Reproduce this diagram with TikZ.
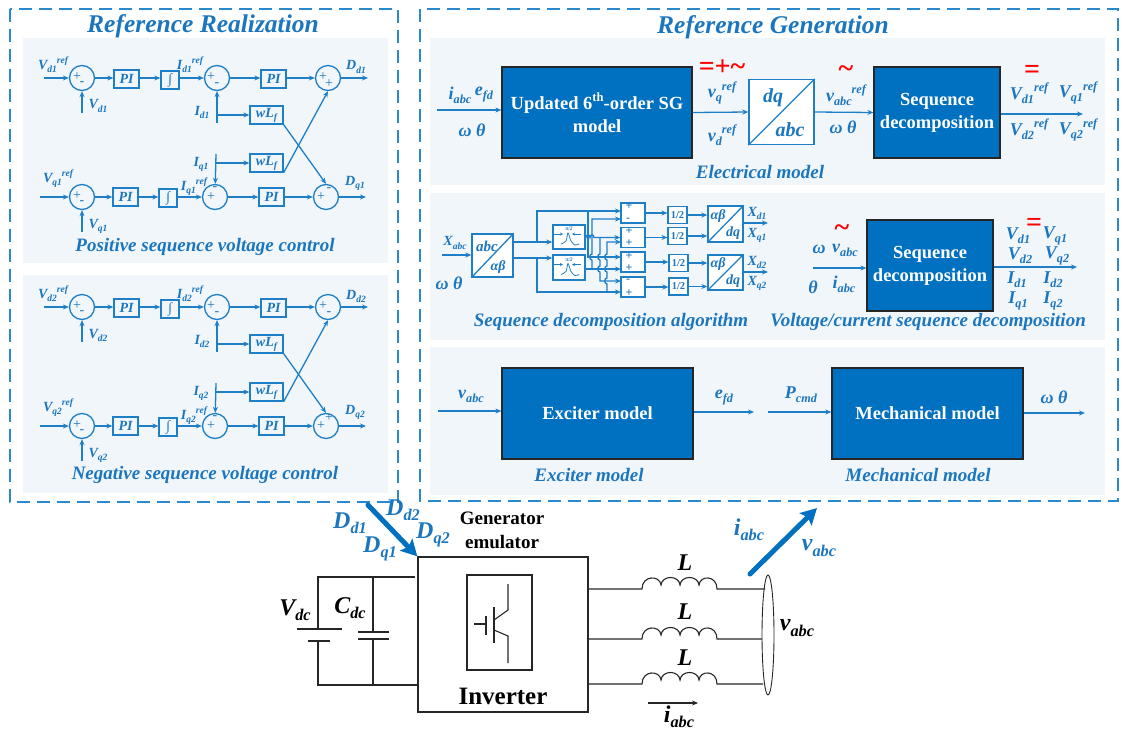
\documentclass[tikz,border=0pt]{standalone}
\usepackage{fontspec}
\setmainfont{Liberation Serif}
\usepackage{xcolor}
\definecolor{colSig}{HTML}{1F7FC6}
\definecolor{colText}{HTML}{1B76BE}
\definecolor{colDash}{HTML}{2A88CE}
\definecolor{colPanel}{HTML}{F1F6FB}
\definecolor{colBlock}{HTML}{0070C0}
\definecolor{colWire}{HTML}{262626}
\usepackage{tikz}
\usetikzlibrary{arrows.meta, positioning, calc, shapes.geometric}
\newcommand{\vlab}[3]{#1\raisebox{-.22em}{\scalebox{.68}{#2}}\raisebox{.42em}{\scalebox{.68}{#3}}}
\newcommand{\vhop}[2]{-- (#1,#2-3) .. controls (#1-3,#2-3) and (#1-3,#2+3) .. (#1,#2+3)}
\tikzset{
	sig/.style={colSig, line width=1.3pt, -{Stealth[length=6pt,width=5pt]}},
	sigback/.style={colSig, line width=1.3pt, {Stealth[length=6pt,width=5pt]}-},
	sigline/.style={colSig, line width=1.3pt},
	wire/.style={colWire, line width=1.1pt},
	thickarrow/.style={colBlock, line width=5pt, line cap=round, -{Stealth[length=16pt,width=17pt,inset=3pt]}},
	ctrlbox/.style={draw=colSig, line width=1.3pt, text=colText, inner sep=0pt, font=\fontsize{14}{15}\selectfont\bfseries\itshape},
	sumnode/.style={circle, draw=colSig, line width=1.3pt, minimum size=25pt, inner sep=0pt},
	signmark/.style={text=colText, inner sep=0pt, font=\fontsize{14}{14}\selectfont},
	addsign/.style={text=colText, inner sep=0pt, font=\fontsize{12}{12}\selectfont\bfseries},
	symlab/.style={text=colText, inner sep=0pt, font=\fontsize{14}{15}\selectfont\bfseries\itshape},
	symlarge/.style={text=colText, inner sep=0pt, font=\fontsize{18}{19}\selectfont\bfseries\itshape},
	captlab/.style={text=colText, inner sep=0pt, font=\fontsize{19}{21}\selectfont\bfseries\itshape},
	titlelab/.style={text=colText, inner sep=0pt, font=\fontsize{25.5}{27}\selectfont\bfseries\itshape},
	biglab/.style={text=colText, inner sep=0pt, font=\fontsize{24}{25}\selectfont\bfseries\itshape},
	blacklab/.style={text=black, inner sep=0pt, font=\fontsize{24}{25}\selectfont\bfseries\itshape},
	redmark/.style={text=red, inner sep=0pt, font=\fontsize{28}{28}\selectfont\bfseries},
	solidblock/.style={draw=colWire, fill=colBlock, line width=1.2pt, text=white, align=center, inner sep=0pt, font=\fontsize{18.5}{23}\selectfont\bfseries},
	transbox/.style={draw=colSig, fill=white, line width=1.4pt, inner sep=0pt},
	addbox/.style={draw=colSig, fill=white, line width=1.3pt, inner sep=0pt, minimum width=24pt, minimum height=20pt},
	halfbox/.style={draw=colSig, fill=white, line width=1.1pt, inner sep=0pt, minimum width=19pt, minimum height=17pt, text=colText, font=\fontsize{10.5}{11}\selectfont\bfseries},
}
\newcommand{\intsym}{∫}
% One sequence loop: y shift, sequence number, y and text of the second sign on both output sums
\newcommand{\ctrlblock}[6]{%
	\begin{scope}[shift={(0,#1)}, name prefix=seq#2-]
		\node[sumnode] (sumA) at (82,78) {};
		\node[ctrlbox, minimum width=25pt, minimum height=18pt] (piA) at (126.5,79) {PI};
		\node[ctrlbox, minimum width=18pt, minimum height=18pt] (intA) at (170,80) {\intsym};
		\node[sumnode] (sumB) at (217,78) {};
		\node[ctrlbox, minimum width=25pt, minimum height=18pt] (piB) at (273.5,79) {PI};
		\node[sumnode] (sumC) at (328,78) {};
		\node[ctrlbox, minimum width=33pt, minimum height=18pt] (wlA) at (266.5,115) {\vlab{wL}{f}{}};
		\node[ctrlbox, minimum width=33pt, minimum height=18pt] (wlB) at (266.5,163) {\vlab{wL}{f}{}};
		\node[sumnode] (sumD) at (82,197) {};
		\node[ctrlbox, minimum width=25pt, minimum height=18pt] (piD) at (125.5,197) {PI};
		\node[ctrlbox, minimum width=18pt, minimum height=18pt] (intD) at (168,198) {\intsym};
		\node[sumnode] (sumE) at (215,197) {};
		\node[ctrlbox, minimum width=25pt, minimum height=18pt] (piE) at (271.5,197) {PI};
		\node[sumnode] (sumF) at (326,197) {};
		% Signs
		\node[signmark] (sgA) at (77,77) {+};
		\node[signmark] (sgB) at (82,84) {-};
		\node[signmark] (sgC) at (211,77) {+};
		\node[signmark] (sgD) at (217,85) {-};
		\node[signmark] (sgE) at (323,77) {+};
		\node[signmark] (sgF) at (329,#3) {#4};
		\node[signmark] (sgG) at (77,196) {+};
		\node[signmark] (sgH) at (82,203) {-};
		\node[signmark] (sgI) at (211,197) {+};
		\node[signmark] (sgJ) at (215,189) {-};
		\node[signmark] (sgK) at (321,197) {+};
		\node[signmark] (sgL) at (329,#5) {#6};
		% Labels
		\node[symlab] (lbA) at (53,65) {\vlab{V}{d#2}{ref}};
		\node[symlab] (lbB) at (98,106) {\vlab{V}{d#2}{}};
		\node[symlab] (lbC) at (190,65) {\vlab{I}{d#2}{ref}};
		\node[symlab] (lbD) at (202,112) {\vlab{I}{d#2}{}};
		\node[symlab] (lbE) at (356,67) {\vlab{D}{d#2}{}};
		\node[symlab] (lbF) at (58,179) {\vlab{V}{q#2}{ref}};
		\node[symlab] (lbG) at (98,226) {\vlab{V}{q#2}{}};
		\node[symlab] (lbH) at (194,187) {\vlab{I}{q#2}{ref}};
		\node[symlab] (lbI) at (201,164) {\vlab{I}{q#2}{}};
		\node[symlab] (lbJ) at (355,183) {\vlab{D}{q#2}{}};
		% Free ends
		\coordinate (inA) at (44,78);
		\coordinate (fbA) at (82,113);
		\coordinate (outC) at (368,78);
		\coordinate (feedB) at (217,123);
		\coordinate (tapB) at (217,115);
		\coordinate (inD) at (40,197);
		\coordinate (fbD) at (82,232);
		\coordinate (outF) at (366,197);
		\coordinate (feedE) at (216,154);
		\coordinate (tapE) at (216,163);
		% Top row
		\draw[sig] (inA) -- (sumA);
		\draw[sig] (fbA) -- (sumA);
		\draw[sig] (sumA) -- (sumA -| piA.west);
		\draw[sig] (piA.east |- sumA) -- (sumA -| intA.west);
		\draw[sig] (intA.east |- sumB) -- (sumB);
		\draw[sig] (sumB) -- (sumB -| piB.west);
		\draw[sig] (piB.east |- sumC) -- (sumC);
		\draw[sig] (sumC) -- (outC);
		\draw[sig] (feedB) -- (sumB);
		\draw[sig] (tapB) -- (wlA);
		% Bottom row
		\draw[sig] (inD) -- (sumD);
		\draw[sig] (fbD) -- (sumD);
		\draw[sig] (sumD) -- (piD);
		\draw[sig] (piD.east) -- (sumD -| intD.west);
		\draw[sig] (intD.east |- sumE) -- (sumE);
		\draw[sig] (sumE) -- (piE);
		\draw[sig] (piE) -- (sumF);
		\draw[sig] (sumF) -- (outF);
		\draw[sig] (feedE) -- (sumE);
		\draw[sig] (tapE) -- (wlB);
		% Crossing
		\draw[sig] (wlA.south east) -- (sumF.north);
		\draw[sig] (wlB.south east) -- (sumC.south);
	\end{scope}}
\begin{document}
\begin{tikzpicture}[x=1pt, y=-1pt]
	\useasboundingbox (0,0) rectangle (1123,731);
	% Panels
	\fill[colPanel] (23,38) rectangle (388,263);
	\fill[colPanel] (23,275) rectangle (388,493);
	\fill[colPanel] (430,38) rectangle (1105,185);
	\fill[colPanel] (430,193) rectangle (1105,340);
	\fill[colPanel] (430,347) rectangle (1105,495);
	\draw[colDash, line width=1.4pt, dash pattern=on 13pt off 7pt] (10,9) rectangle (398,502);
	\draw[colDash, line width=1.4pt, dash pattern=on 13pt off 7pt] (420,9) rectangle (1118,501);
	\node[titlelab] (titleReal) at (203,26) {Reference Realization};
	\node[titlelab] (titleGen) at (773,27) {Reference Generation};
	% Control loops
	\ctrlblock{0}{1}{84}{+}{190}{-}
	\node[captlab] (captPos) at (205,247) {Positive sequence voltage control};
	\ctrlblock{229}{2}{85}{-}{189}{+}
	\node[captlab] (captNeg) at (205,475) {Negative sequence voltage control};
	% Electrical model
	\node[solidblock, minimum width=190pt, minimum height=91pt] (sgModel) at (597,112.5) {Updated 6\raisebox{.42em}{\scalebox{.68}{th}}-order SG\\model};
	\node[transbox, minimum width=65pt, minimum height=65pt] (dqAbc) at (781.5,112) {};
	\draw[sigline] (dqAbc.south west) -- (dqAbc.north east);
	\node[solidblock, minimum width=126pt, minimum height=91pt] (seqElec) at (937,112.5) {Sequence\\decomposition};
	\node[symlarge, font=\fontsize{20}{21}\selectfont\bfseries\itshape] (lbDq) at (773,98) {dq};
	\node[symlarge, font=\fontsize{20}{21}\selectfont\bfseries\itshape] (lbAbc) at (790,130) {abc};
	\coordinate (inSg) at (437,110);
	\coordinate (outSeq) at (1083,114);
	\draw[sig] (inSg) -- (inSg -| sgModel.west);
	\draw[sig] (sgModel.east) -- (dqAbc.west);
	\draw[sig] (dqAbc.east) -- (seqElec.west);
	\draw[sig] (seqElec.east |- outSeq) -- (outSeq);
	\node[symlarge] (lbIabc) at (460,95) {\vlab{i}{abc}{}};
	\node[symlarge] (lbEfd) at (484,95) {\vlab{e}{fd}{}};
	\node[symlarge] (lbWt) at (472,130) {ω θ};
	\node[symlarge] (lbVq) at (722,93) {\vlab{v}{q}{ref}};
	\node[symlarge] (lbVd) at (722,135) {\vlab{v}{d}{ref}};
	\node[symlarge] (lbVabcR) at (846,95) {\vlab{v}{abc}{ref}};
	\node[symlarge] (lbWtB) at (843,127) {ω θ};
	\node[symlarge] (lbVdA) at (1029,93) {\vlab{V}{d1}{ref}};
	\node[symlarge] (lbVqA) at (1078,93) {\vlab{V}{q1}{ref}};
	\node[symlarge] (lbVdB) at (1029,129) {\vlab{V}{d2}{ref}};
	\node[symlarge] (lbVqB) at (1078,130) {\vlab{V}{q2}{ref}};
	\node[redmark] (redA) at (722,68) {=+\textasciitilde};
	\node[redmark] (redB) at (846,72) {\textasciitilde};
	\node[redmark] (redC) at (1032,72) {=};
	\node[captlab] (captElec) at (760,172) {Electrical model};
	% Sequence decomposition algorithm
	\node[transbox, minimum width=41pt, minimum height=43pt] (abcAb) at (492.5,255.5) {};
	\draw[sigline] (abcAb.south west) -- (abcAb.north east);
	\node[symlab, font=\fontsize{15}{16}\selectfont\bfseries\itshape] (lbAbcB) at (487,246) {abc};
	\node[symlab] (lbAb) at (498,267) {αβ};
	\node[transbox, minimum width=32pt, minimum height=24pt] (lpA) at (569,237) {};
	\node[transbox, minimum width=32pt, minimum height=25pt] (lpB) at (569,267.5) {};
	\foreach \lp/\tx in {lpA/piA, lpB/piB} {
		\node[text=colText, inner sep=0pt, font=\fontsize{5.5}{6}\selectfont\bfseries\itshape] (\tx) at ($(\lp.center)+(0,-8)$) {π/2};
		\draw[colSig, line width=.8pt] plot[smooth] coordinates {($(\lp.center)+(-8,7)$) ($(\lp.center)+(-3,4)$) ($(\lp.center)+(-1,-4)$) ($(\lp.center)+(2,4)$) ($(\lp.center)+(6,8)$) ($(\lp.center)+(10,7)$)};
		\draw[colSig, line width=.8pt, -{Stealth[length=3pt,width=3pt]}] ($(\lp.center)+(12,-3)$) -- ($(\lp.center)+(3,-3)$);
		\draw[colSig, line width=.8pt, -{Stealth[length=3pt,width=3pt]}] ($(\lp.center)+(-15,-3)$) -- ($(\lp.center)+(-6,-3)$);
	}
	\node[addbox] (addA) at (633,213) {};
	\node[addbox] (addB) at (633,237.5) {};
	\node[addbox] (addC) at (633,262) {};
	\node[addbox] (addD) at (633,287) {};
	\node[addsign] (pmA) at (629,206.5) {+};
	\node[addsign] (pmB) at (628,220) {-};
	\node[addsign] (pmC) at (629,231.5) {+};
	\node[addsign] (pmD) at (629,243) {+};
	\node[addsign] (pmE) at (629,256) {+};
	\node[addsign] (pmF) at (629,268) {+};
	\node[addsign] (pmG) at (628,281) {-};
	\node[addsign] (pmH) at (629,293) {+};
	\node[halfbox] (halfA) at (677.5,215) {1/2};
	\node[halfbox] (halfB) at (677.5,236) {1/2};
	\node[halfbox] (halfC) at (678.5,263) {1/2};
	\node[halfbox] (halfD) at (678.5,286.5) {1/2};
	\node[transbox, minimum width=35pt, minimum height=36pt] (abDqA) at (725.5,224) {};
	\node[transbox, minimum width=35pt, minimum height=35pt] (abDqB) at (725.5,272.5) {};
	\draw[sigline] (abDqA.south west) -- (abDqA.north east);
	\draw[sigline] (abDqB.south west) -- (abDqB.north east);
	\node[symlab] (lbAbA) at (718,216) {αβ};
	\node[symlab] (lbDqA) at (733,233) {dq};
	\node[symlab] (lbAbB) at (718,264) {αβ};
	\node[symlab] (lbDqB) at (733,281) {dq};
	% Named ends of the wiring
	\coordinate (busUp) at (537,242);
	\coordinate (busLow) at (537,258);
	\coordinate (inAddAa) at (621,211);
	\coordinate (inAddAb) at (621,219);
	\coordinate (inAddBb) at (621,242);
	\coordinate (inAddCa) at (621,257);
	\coordinate (inAddDa) at (621,281);
	\coordinate (inAddDb) at (621,292);
	\coordinate (inX) at (442,255);
	\coordinate (outXa) at (768,223);
	\coordinate (outXb) at (768,272);
	\draw[sig] (inX) -- (inX -| abcAb.west);
	\draw[sigline] (abcAb.east |- busUp) -- (busUp);
	\draw[sigline] (abcAb.east |- busLow) -- (busLow);
	\draw[sig] (busUp) -- (busUp -| lpA.west);
	\draw[sig] (busLow) -- (busLow -| lpB.west);
	\draw[sig] (busUp) |- (inAddAa);
	\draw[sig] (busLow) |- (inAddDb);
	\draw[sig] (588,211) -- (588,257) -- (inAddCa);
	\draw[sig] (lpA.east |- addB) -- (586,237.5) .. controls (586,234) and (590,234) .. (590,237.5) .. controls (590,234) and (594,234) .. (594,237.5) -- (addB.west);
	\draw[sig] (lpB.east |- 0,269) -- (621,269);
	\draw[sigback] (inAddAb) -- (592,219) \vhop{592}{257} -- (592,269);
	\draw[sig] (600,237.5) \vhop{600}{257} \vhop{600}{269} -- (600,281) -- (inAddDa);
	\draw[sigback] (inAddBb) -- (607,242) \vhop{607}{257} \vhop{607}{269} \vhop{607}{281} -- (607,292);
	\draw[sig] (addA.east) -- (addA -| halfA.west);
	\draw[sig] (addB.east) -- (addB -| halfB.west);
	\draw[sig] (addC.east) -- (addC -| halfC.west);
	\draw[sig] (addD.east) -- (addD -| halfD.west);
	\draw[sig] (halfA.east) -- (halfA -| abDqA.west);
	\draw[sig] (halfB.east) -- (halfB -| abDqA.west);
	\draw[sig] (halfC.east) -- (halfC -| abDqB.west);
	\draw[sig] (halfD.east) -- (halfD -| abDqB.west);
	\draw[sig] (abDqA.east |- outXa) -- (outXa);
	\draw[sig] (abDqB.east |- outXb) -- (outXb);
	\node[symlab] (lbXabc) at (455,243) {\vlab{X}{abc}{}};
	\node[symlarge] (lbWtC) at (449,283) {ω θ};
	\node[symlab] (lbXdA) at (757,213) {\vlab{X}{d1}{}};
	\node[symlab] (lbXqA) at (757,235) {\vlab{X}{q1}{}};
	\node[symlab] (lbXdB) at (757,262) {\vlab{X}{d2}{}};
	\node[symlab] (lbXqB) at (757,283) {\vlab{X}{q2}{}};
	\node[captlab] (captAlgo) at (611,322) {Sequence decomposition algorithm};
	% Voltage and current decomposition
	\node[solidblock, minimum width=126pt, minimum height=91pt] (seqVi) at (930,265.5) {Sequence\\decomposition};
	\coordinate (inVi) at (813,268);
	\coordinate (outVi) at (1077,267);
	\draw[sig] (inVi) -- (inVi -| seqVi.west);
	\draw[sig] (seqVi.east |- outVi) -- (outVi);
	\node[symlarge] (lbOmega) at (819,249) {ω};
	\node[symlarge] (lbVabc) at (845,250) {\vlab{v}{abc}{}};
	\node[symlarge] (lbTheta) at (813,287) {θ};
	\node[symlarge] (lbIabcB) at (844,284) {\vlab{i}{abc}{}};
	\node[symlarge] (lbVdAb) at (1018,236) {\vlab{V}{d1}{}};
	\node[symlarge] (lbVqAb) at (1055,236) {\vlab{V}{q1}{}};
	\node[symlarge] (lbVdBb) at (1020,256) {\vlab{V}{d2}{}};
	\node[symlarge] (lbVqBb) at (1057,256) {\vlab{V}{q2}{}};
	\node[symlarge] (lbIdA) at (1017,280) {\vlab{I}{d1}{}};
	\node[symlarge] (lbIdB) at (1053,280) {\vlab{I}{d2}{}};
	\node[symlarge] (lbIqA) at (1018,301) {\vlab{I}{q1}{}};
	\node[symlarge] (lbIqB) at (1053,301) {\vlab{I}{q2}{}};
	\node[redmark] (redD) at (842,231) {\textasciitilde};
	\node[redmark] (redE) at (1034,225) {=};
	\node[captlab] (captVi) at (928,322) {Voltage/current sequence decomposition};
	% Exciter and mechanical models
	\node[solidblock, minimum width=191pt, minimum height=91pt] (exciter) at (597.5,413.5) {Exciter model};
	\node[solidblock, minimum width=191pt, minimum height=91pt] (mech) at (927.5,413.5) {Mechanical model};
	\coordinate (inExc) at (438,411);
	\coordinate (outExc) at (754,412);
	\coordinate (inMech) at (768,412);
	\coordinate (outMech) at (1085,413);
	\draw[sig] (inExc) -- (inExc -| exciter.west);
	\draw[sig] (exciter.east |- outExc) -- (outExc);
	\draw[sig] (inMech) -- (inMech -| mech.west);
	\draw[sig] (mech.east |- outMech) -- (outMech);
	\node[symlarge] (lbVabcC) at (471,396) {\vlab{v}{abc}{}};
	\node[symlarge] (lbEfdB) at (724,398) {\vlab{e}{fd}{}};
	\node[symlarge] (lbPcmd) at (801,395) {\vlab{P}{cmd}{}};
	\node[symlarge] (lbWtD) at (1054,397) {ω θ};
	\node[captlab] (captExc) at (589,475) {Exciter model};
	\node[captlab] (captMech) at (918,475) {Mechanical model};
	% Inverter
	\node[draw=colWire, line width=1.4pt, minimum width=170pt, minimum height=155pt, inner sep=0pt] (inv) at (503,634.5) {};
	\node[draw=colWire, line width=1.1pt, minimum width=65pt, minimum height=95pt, inner sep=0pt] (igbtBox) at (499.5,622.5) {};
	\draw[wire] (474,624) -- (486,624);
	\draw[wire] (486,616) -- (486,635);
	\draw[wire] (494,607) -- (494,643);
	\draw[wire] (494,620) -- (508,610) -- (508,584);
	\draw[wire] (494,630) -- (508,636) -- (508,663);
	\node[text=black, inner sep=0pt, font=\fontsize{25}{27}\selectfont\bfseries] (lbInv) at (503,696) {Inverter};
	\node[text=black, inner sep=0pt, align=center, font=\fontsize{19}{24}\selectfont\bfseries] (lbGen) at (502,530) {Generator\\emulator};
	\coordinate (fromCtrl) at (368,505);
	\coordinate (toGrid) at (817,508);
	\coordinate (fromGrid) at (750,574);
	\draw[thickarrow] (fromCtrl) -- (inv.north west);
	\draw[thickarrow] (fromGrid) -- (toGrid);
	\node[biglab] (lbDdA) at (350,523) {\vlab{D}{d1}{}};
	\node[biglab] (lbDdB) at (403,510) {\vlab{D}{d2}{}};
	\node[biglab] (lbDqA) at (380,549) {\vlab{D}{q1}{}};
	\node[biglab] (lbDqB) at (433,535) {\vlab{D}{q2}{}};
	% DC side
	\coordinate (dcTop) at (415,577);
	\coordinate (dcBot) at (417,685);
	\draw[wire] (dcTop) -- (318,577) -- (318,629);
	\draw[wire] (318,641) -- (318,685) -- (dcBot);
	\draw[wire] (297,629) -- (342,629);
	\draw[wire] (308,641) -- (330,641);
	\draw[wire] (373,577) -- (373,632);
	\draw[wire] (373,639) -- (373,685);
	\draw[wire] (358,632) -- (389,632);
	\draw[wire] (358,639) -- (389,639);
	\node[blacklab] (lbVdc) at (295,610) {\vlab{V}{dc}{}};
	\node[blacklab] (lbCdc) at (350,608) {\vlab{C}{dc}{}};
	% Filter and terminal
	\node[ellipse, draw=colWire, line width=.9pt, minimum width=12pt, minimum height=120pt, inner sep=0pt] (term) at (768,635) {};
	\foreach \wy/\wx in {589/765, 639/762, 684/763} {
		\draw[wire] (inv.east |- 0,\wy) -- (642,\wy) .. controls (642,\wy-14) and (660,\wy-14) .. (661,\wy-4) .. controls (662,\wy-14) and (679,\wy-14) .. (680,\wy-4) .. controls (681,\wy-14) and (698,\wy-14) .. (699,\wy-4) .. controls (700,\wy-14) and (717,\wy-14) .. (717,\wy) -- (\wx,\wy);
	}
	\node[blacklab] (lbLa) at (685,563) {L};
	\node[blacklab] (lbLb) at (685,612) {L};
	\node[blacklab] (lbLc) at (685,658) {L};
	\node[blacklab] (lbVabcD) at (797,628) {\vlab{v}{abc}{}};
	\coordinate (curFrom) at (648,703);
	\coordinate (curTo) at (698,703);
	\draw[colWire, line width=1.2pt, -{Stealth[length=6pt,width=5pt]}] (curFrom) -- (curTo);
	\node[blacklab] (lbIabcD) at (679,717) {\vlab{i}{abc}{}};
	\node[biglab] (lbIabcE) at (749,530) {\vlab{i}{abc}{}};
	\node[biglab] (lbVabcE) at (819,548) {\vlab{v}{abc}{}};
\end{tikzpicture}
\end{document}
